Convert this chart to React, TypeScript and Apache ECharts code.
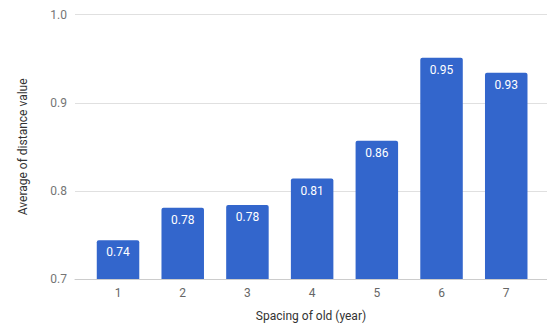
import React, { useEffect, useRef } from "react";
import * as echarts from "echarts";

const categories = [1, 2, 3, 4, 5, 6, 7];
const values = [0.744, 0.781, 0.784, 0.814, 0.857, 0.951, 0.934];
const yTicks = [0.7, 0.8, 0.9, 1.0];

export default function App() {
  const ref = useRef<HTMLDivElement>(null);
  useEffect(() => {
    if (!ref.current) return;
    const chart = echarts.init(ref.current, undefined, { renderer: "svg" });
    chart.setOption({
      animation: false,
      textStyle: { fontFamily: "Roboto" },
      grid: { left: 75, right: 0, top: 14.7, bottom: 54 },
      xAxis: {
        type: "value",
        min: 0.335,
        max: 7.63,
        name: "Spacing of old (year)",
        nameLocation: "middle",
        nameGap: 31,
        nameTextStyle: { color: "#333", fontSize: 12, fontFamily: "Roboto" },
        axisLine: { show: true, lineStyle: { color: "#cccccc" } },
        axisTick: { show: false },
        splitLine: { show: false },
        axisLabel: {
          customValues: categories,
          color: "#666",
          fontSize: 12,
          margin: 8,
          formatter: (v: number) => String(v),
        },
      },
      yAxis: {
        type: "value",
        min: yTicks[0],
        max: yTicks[yTicks.length - 1],
        interval: 0.1,
        name: "Average of distance value",
        nameLocation: "middle",
        nameGap: 46,
        nameTextStyle: { color: "#333", fontSize: 12, fontFamily: "Roboto" },
        axisLine: { show: false },
        axisTick: { show: false },
        splitLine: { show: true, lineStyle: { color: "#e0e0e0" } },
        axisLabel: {
          color: "#757575",
          fontSize: 12,
          margin: 8,
          formatter: (v: number) => v.toFixed(1),
        },
      },
      series: [
        {
          type: "bar",
          barWidth: 42.5,
          data: categories.map((c, i) => [c, values[i]]),
          itemStyle: { color: "#3366CC", borderRadius: [2, 2, 0, 0] },
          label: {
            show: true,
            position: "insideTop",
            distance: 6,
            color: "#fff",
            fontSize: 12,
            fontFamily: "Roboto",
            formatter: (p: any) => p.value[1].toFixed(2),
          },
        },
      ],
    });
    return () => chart.dispose();
  }, []);
  return <div ref={ref} style={{ width: 547, height: 333, position: "absolute", left: 0, top: 0 }} />;
}
